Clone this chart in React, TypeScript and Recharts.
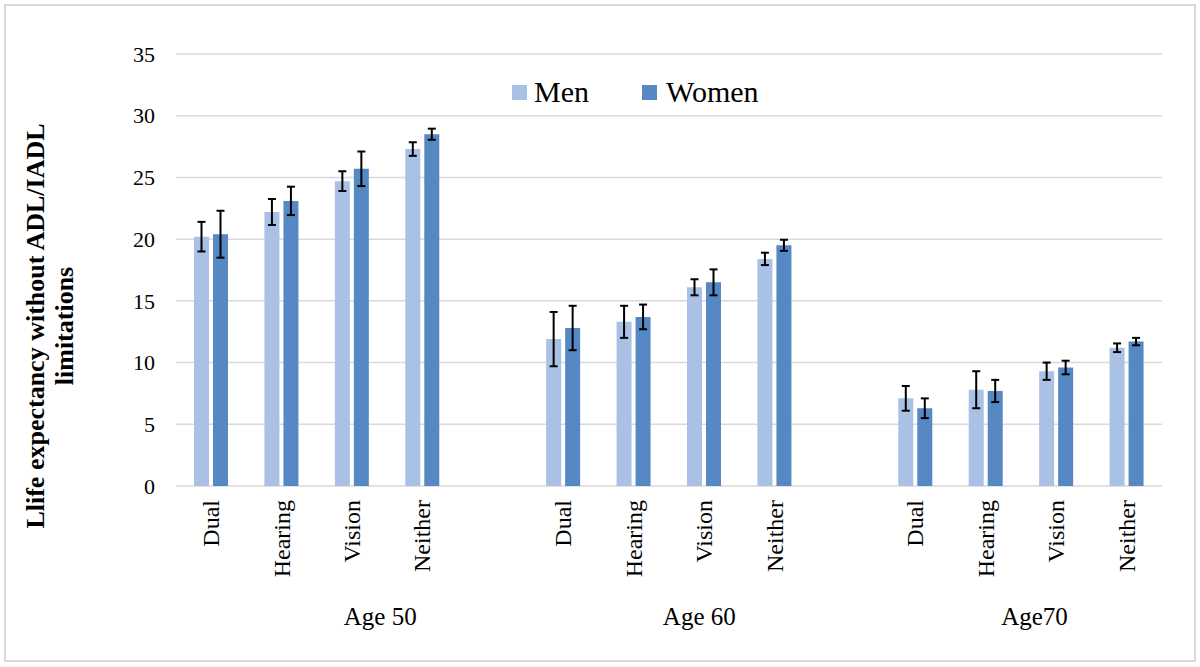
import React from "react";
import {
  BarChart,
  Bar,
  XAxis,
  YAxis,
  CartesianGrid,
  ErrorBar,
  Legend,
} from "recharts";

const categories = [
  "Dual", "Hearing", "Vision", "Neither", "",
  "Dual", "Hearing", "Vision", "Neither", "",
  "Dual", "Hearing", "Vision", "Neither",
];
const menValues = [20.2, 22.2, 24.7, 27.3, null, 11.9, 13.3, 16.1, 18.4, null, 7.1, 7.8, 9.3, 11.2];
const womenValues = [20.4, 23.1, 25.7, 28.5, null, 12.8, 13.7, 16.5, 19.5, null, 6.3, 7.7, 9.6, 11.7];
const menErr = [1.2, 1.05, 0.8, 0.55, null, 2.2, 1.3, 0.65, 0.5, null, 1.0, 1.5, 0.7, 0.35];
const womenErr = [1.9, 1.15, 1.4, 0.45, null, 1.8, 1.0, 1.05, 0.45, null, 0.8, 0.9, 0.55, 0.3];
const groupLabels = ["Age 50", "Age 60", "Age70"];
const groupLabelPos = [2.9, 7.43, 12.19];
const yTicks = [0, 5, 10, 15, 20, 25, 30, 35];

const MEN = "#a9c1e4";
const WOMEN = "#5689c4";
const FONT = "'Liberation Serif', 'Times New Roman', serif";

const data = categories.map((cat, i) => ({
  cat,
  pos: i + 0.5,
  men: menValues[i],
  women: womenValues[i],
  menErr: menErr[i],
  womenErr: womenErr[i],
}));

const YTick = ({ x, y, payload }: any) => (
  <text x={x - 21} y={y} dy="0.35em" textAnchor="end" fontSize={22} style={{ fontFamily: FONT }} fill="#000">
    {payload.value}
  </text>
);

const CatTick = ({ x, y, payload }: any) => (
  <text
    transform={`translate(${x},${y + 14}) rotate(-90)`}
    textAnchor="end"
    dy="0.33em"
    fontSize={24}
    style={{ fontFamily: FONT }}
    fill="#000"
  >
    {categories[payload.index] ?? payload.value}
  </text>
);

const GroupTick = ({ x, y, index }: any) => (
  <text x={x} y={y + 34} textAnchor="middle" fontSize={25} style={{ fontFamily: FONT }} fill="#000">
    {groupLabels[index]}
  </text>
);

const YTitle = () => (
  <g style={{ fontFamily: FONT }} fontWeight="bold" fontSize={26} fill="#000">
    <text transform="rotate(-90)" x={-326} y={44} textAnchor="middle">
      Llife expectancy without ADL/IADL
    </text>
    <text transform="rotate(-90)" x={-326} y={73} textAnchor="middle">
      limitations
    </text>
  </g>
);

const LegendBox = () => (
  <div style={{ display: "flex", alignItems: "center", paddingLeft: 512, fontFamily: FONT, fontSize: 30, color: "#000", lineHeight: "32px" }}>
    <span style={{ width: 15, height: 15, background: MEN, display: "inline-block", marginRight: 7 }} />
    <span style={{ marginRight: 53 }}>Men</span>
    <span style={{ width: 15, height: 15, background: WOMEN, display: "inline-block", marginRight: 9 }} />
    <span>Women</span>
  </div>
);

export default function App() {
  return (
    <div style={{ position: "absolute", left: 0, top: 0, width: 1200, height: 667, background: "#fff" }}>
      <div
        style={{
          position: "absolute",
          left: 4,
          top: 4,
          width: 1192,
          height: 658,
          border: "2px solid #d9d9d9",
          boxSizing: "border-box",
        }}
      />
      <BarChart
        width={1200}
        height={667}
        data={data}
        margin={{ top: 54, right: 38, left: 0, bottom: 16 }}
        barSize={15}
        barGap={4}
      >
        <CartesianGrid vertical={false} stroke="#d9d9d9" strokeWidth={1.5} />
        <YAxis
          domain={[0, 35]}
          ticks={yTicks}
          width={176}
          axisLine={false}
          tickLine={false}
          tickSize={0}
          tickMargin={0}
          tick={<YTick />}
          label={{ content: () => <YTitle /> }}
        />
        <XAxis
          dataKey="cat"
          interval={0}
          height={105}
          axisLine={false}
          tickLine={false}
          tickSize={0}
          tickMargin={0}
          tick={<CatTick />}
        />
        <XAxis
          xAxisId="grp"
          dataKey="pos"
          type="number"
          domain={[0, 14]}
          ticks={groupLabelPos}
          allowDataOverflow
          height={60}
          axisLine={false}
          tickLine={false}
          tickSize={0}
          tickMargin={0}
          tick={<GroupTick />}
        />
        <Legend
          verticalAlign="middle"
          align="center"
          layout="horizontal"
          wrapperStyle={{ top: 76, left: 0, width: 1200 }}
          content={() => <LegendBox />}
        />
        <Bar dataKey="men" fill={MEN} isAnimationActive={false}>
          <ErrorBar dataKey="menErr" width={4} stroke="#000" strokeWidth={2} />
        </Bar>
        <Bar dataKey="women" fill={WOMEN} isAnimationActive={false}>
          <ErrorBar dataKey="womenErr" width={4} stroke="#000" strokeWidth={2} />
        </Bar>
      </BarChart>
    </div>
  );
}
